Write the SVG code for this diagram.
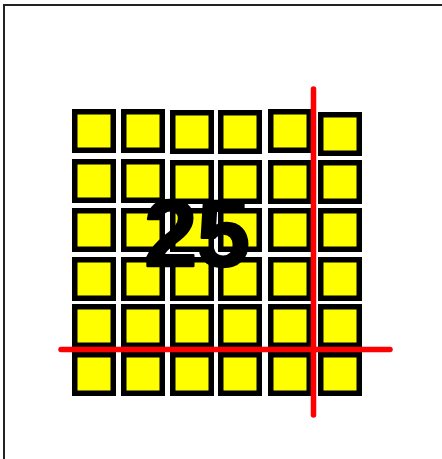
<svg xmlns="http://www.w3.org/2000/svg" width="442" height="459" viewBox="0 0 442 459">
  <style>
    .sq { fill: #ffff00; stroke: #000000; stroke-width: 5.5; }
    .red { stroke: #ff0000; stroke-width: 5.5; stroke-linecap: round; fill: none; }
    .num { font-family: "Liberation Sans", Arial, sans-serif; font-weight: bold; font-size: 95px; fill: #000000; stroke: #000000; stroke-width: 2.5; stroke-linejoin: round; }
  </style>
  <rect x="0" y="0" width="442" height="459" fill="#ffffff"/>
  <rect id="frame" x="4" y="5" width="500" height="500" fill="none" stroke="#222222" stroke-width="2"/>
  <defs>
    <rect id="cell" x="2.75" y="2.75" width="38.5" height="38.5"/>
  </defs>
  <g id="grid">
    <g id="row1">
      <use href="#cell" class="sq" x="72" y="109"/>
      <use href="#cell" class="sq" x="121" y="109"/>
      <use href="#cell" class="sq" x="170" y="110"/>
      <use href="#cell" class="sq" x="218" y="110"/>
      <use href="#cell" class="sq" x="268" y="109"/>
      <use href="#cell" class="sq" x="318" y="112"/>
    </g>
    <g id="row2">
      <use href="#cell" class="sq" x="72" y="159"/>
      <use href="#cell" class="sq" x="121" y="159"/>
      <use href="#cell" class="sq" x="170" y="160"/>
      <use href="#cell" class="sq" x="218" y="160"/>
      <use href="#cell" class="sq" x="268" y="160"/>
      <use href="#cell" class="sq" x="318" y="160"/>
    </g>
    <g id="row3">
      <use href="#cell" class="sq" x="72" y="208"/>
      <use href="#cell" class="sq" x="121" y="208"/>
      <use href="#cell" class="sq" x="170" y="208"/>
      <use href="#cell" class="sq" x="218" y="208"/>
      <use href="#cell" class="sq" x="268" y="208"/>
      <use href="#cell" class="sq" x="318" y="208"/>
    </g>
    <g id="row4">
      <use href="#cell" class="sq" x="72" y="257"/>
      <use href="#cell" class="sq" x="121" y="257"/>
      <use href="#cell" class="sq" x="170" y="257"/>
      <use href="#cell" class="sq" x="218" y="257"/>
      <use href="#cell" class="sq" x="268" y="257"/>
      <use href="#cell" class="sq" x="318" y="257"/>
    </g>
    <g id="row5">
      <use href="#cell" class="sq" x="72" y="304"/>
      <use href="#cell" class="sq" x="121" y="304"/>
      <use href="#cell" class="sq" x="170" y="304"/>
      <use href="#cell" class="sq" x="218" y="304"/>
      <use href="#cell" class="sq" x="268" y="304"/>
      <use href="#cell" class="sq" x="318" y="304"/>
    </g>
    <g id="row6">
      <use href="#cell" class="sq" x="72" y="352"/>
      <use href="#cell" class="sq" x="121" y="352"/>
      <use href="#cell" class="sq" x="170" y="352"/>
      <use href="#cell" class="sq" x="218" y="352"/>
      <use href="#cell" class="sq" x="268" y="352"/>
      <use href="#cell" class="sq" x="318" y="352"/>
    </g>
  </g>
  <g id="label">
    <text class="num" x="197" y="266" text-anchor="middle">25</text>
  </g>
  <g id="lines">
    <line class="red" x1="313.5" y1="89" x2="313.5" y2="415"/>
    <line class="red" x1="61" y1="349.5" x2="390" y2="349.5"/>
  </g>
</svg>
